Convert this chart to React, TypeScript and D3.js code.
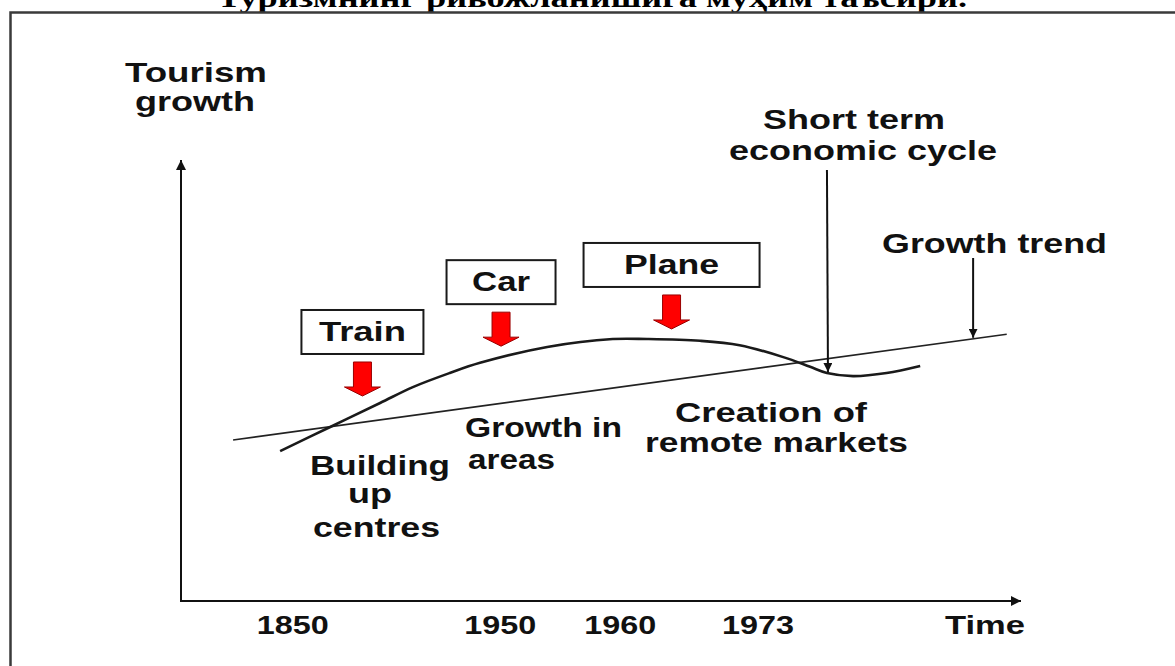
import React from "react";
import * as d3 from "d3";

// ---- data ----
const titleText = "Туризмнинг ривожланишига муҳим таъсири.";
const timeTickLabels = ["1850", "1950", "1960", "1973"];
const timeTickIndex = [13.3, 38.0, 52.3, 68.7];
const timeAxisLabel = "Time";
const growthAxisLabel = ["Tourism", "growth"];

// short-term economic cycle (time index, growth level)
const cycleTime = [11.8, 17.7, 23.7, 27.6, 32.0, 35.6, 43.6, 51.4, 55.5, 61.8, 66.5, 71.7, 74.9, 76.9, 80.0, 84.0, 88.0];
const cycleGrowth = [34.0, 39.4, 44.9, 48.5, 51.7, 54.0, 57.6, 59.4, 59.4, 59.0, 58.0, 55.3, 53.1, 51.7, 51.0, 51.7, 53.3];

// long-term growth trend
const trendTime = [6.2, 98.3];
const trendGrowth = [36.5, 60.5];

// transport modes
const modes = ["Train", "Car", "Plane"];
const modeTime = [21.6, 38.1, 58.4];
const modeLevel = [61.0, 72.3, 76.2];

// phases
const phaseLines = [["Building", "up", "centres"], ["Growth in", "areas"], ["Creation of", "remote markets"]];

const W = 1175;
const H = 666;

const x = d3.scaleLinear().domain([0, 100]).range([181, 1021]);
const y = d3.scaleLinear().domain([0, 100]).range([601, 160]);

const sans = "'Liberation Sans', Arial, sans-serif";

function T({ x0, x1, by, children, size = 27 }: any) {
  return (
    <text
      x={x0}
      y={by}
      fontFamily={sans}
      fontWeight="bold"
      fontSize={size}
      fill="#111"
      textLength={x1 - x0}
      lengthAdjust="spacingAndGlyphs"
    >
      {children}
    </text>
  );
}

function redArrow(cx: number, top: number) {
  const sw = 9, hw = 18, sl = 25, hl = 9;
  return `M${cx - sw},${top} L${cx + sw},${top} L${cx + sw},${top + sl} L${cx + hw},${top + sl} L${cx},${top + sl + hl} L${cx - hw},${top + sl} L${cx - sw},${top + sl} Z`;
}

export default function App() {
  const cyclePts: [number, number][] = cycleTime.map((t, i) => [x(t), y(cycleGrowth[i])]);
  const line = d3.line().curve(d3.curveCatmullRom.alpha(0.5));
  const cyclePath = line(cyclePts) || "";
  const trendPath = d3.line()(trendTime.map((t, i) => [x(t), y(trendGrowth[i])]) as [number, number][]) || "";

  const boxW = [122, 109, 176];
  const boxH = 44;

  const stX = x(76.9);
  const gtX = x(94.3);
  const trendAt = (t: number) => trendGrowth[0] + (trendGrowth[1] - trendGrowth[0]) * (t - trendTime[0]) / (trendTime[1] - trendTime[0]);

  return (
    <svg width={W} height={H} style={{ position: "absolute", left: 0, top: 0, background: "#fff" }}>
      <defs>
        <marker id="ah" viewBox="0 0 10 10" refX="10" refY="5" markerWidth="5" markerHeight="5" orient="auto-start-reverse" markerUnits="strokeWidth">
          <path d="M0,0 L10,5 L0,10 Z" fill="#111" />
        </marker>
        <marker id="ah2" viewBox="0 0 10 10" refX="10" refY="5" markerWidth="4.5" markerHeight="4.5" orient="auto" markerUnits="strokeWidth">
          <path d="M0,0 L10,5 L0,10 Z" fill="#111" />
        </marker>
      </defs>
      <rect width={W} height={H} fill="#fff" />

      {/* title (cut off at the top edge, as in the reference) */}
      <text x={217} y={7} fontFamily="'Liberation Serif', 'Times New Roman', serif" fontWeight="bold" fontSize={28} fill="#000"
        textLength={750} lengthAdjust="spacingAndGlyphs">{titleText}</text>

      {/* frame */}
      <path d="M10.5,700 V12.5 H1190" fill="none" stroke="#3a3a3a" strokeWidth={2.5} />

      {/* axes */}
      <line x1={x(0)} y1={y(0)} x2={x(0)} y2={y(100)} stroke="#111" strokeWidth={2} markerEnd="url(#ah)" />
      <line x1={x(0) - 1} y1={y(0)} x2={x(100)} y2={y(0)} stroke="#111" strokeWidth={2} markerEnd="url(#ah)" />

      {/* axis labels */}
      <T x0={125} x1={267} by={82}>{growthAxisLabel[0]}</T>
      <T x0={135} x1={255} by={111}>{growthAxisLabel[1]}</T>
      {timeTickLabels.map((lab, i) => (
        <text key={lab} x={x(timeTickIndex[i])} y={634} textAnchor="middle" fontFamily={sans} fontWeight="bold" fontSize={26} fill="#111"
          textLength={72} lengthAdjust="spacingAndGlyphs">{lab}</text>
      ))}
      <T x0={945} x1={1025} by={634} size={26}>{timeAxisLabel}</T>

      {/* trend and cycle */}
      <path d={trendPath} fill="none" stroke="#222" strokeWidth={1.6} />
      <path d={cyclePath} fill="none" stroke="#1a1a1a" strokeWidth={2.6} />

      {/* modes */}
      {modes.map((m, i) => {
        const cx = x(modeTime[i]);
        const cy = y(modeLevel[i]);
        const bw = boxW[i];
        const top = cy - boxH / 2;
        const tw = [87, 58, 95][i];
        return (
          <g key={m}>
            <rect x={cx - bw / 2} y={top} width={bw} height={boxH} fill="#fff" stroke="#1a1a1a" strokeWidth={2} />
            <text x={cx} y={cy + 9} textAnchor="middle" fontFamily={sans} fontWeight="bold" fontSize={27} fill="#111"
              textLength={tw} lengthAdjust="spacingAndGlyphs">{m}</text>
            <path d={redArrow(cx, top + boxH + 8)} fill="#ff0000" stroke="#900" strokeWidth={1} />
          </g>
        );
      })}

      {/* annotation arrows */}
      <line x1={stX} y1={170} x2={stX + 1} y2={y(cycleGrowth[13]) - 1} stroke="#111" strokeWidth={2} markerEnd="url(#ah2)" />
      <line x1={gtX} y1={258} x2={gtX} y2={y(trendAt(94.3)) - 1} stroke="#111" strokeWidth={2} markerEnd="url(#ah2)" />

      {/* annotation labels */}
      <T x0={763} x1={945} by={129}>Short term</T>
      <T x0={729} x1={997} by={160}>economic cycle</T>
      <T x0={882} x1={1107} by={253}>Growth trend</T>

      {/* phase labels */}
      <T x0={310} x1={450} by={475}>{phaseLines[0][0]}</T>
      <T x0={348} x1={392} by={503}>{phaseLines[0][1]}</T>
      <T x0={313} x1={440} by={537}>{phaseLines[0][2]}</T>
      <T x0={465} x1={622} by={437}>{phaseLines[1][0]}</T>
      <T x0={468} x1={555} by={469}>{phaseLines[1][1]}</T>
      <T x0={675} x1={867} by={422}>{phaseLines[2][0]}</T>
      <T x0={645} x1={908} by={452}>{phaseLines[2][1]}</T>
    </svg>
  );
}
